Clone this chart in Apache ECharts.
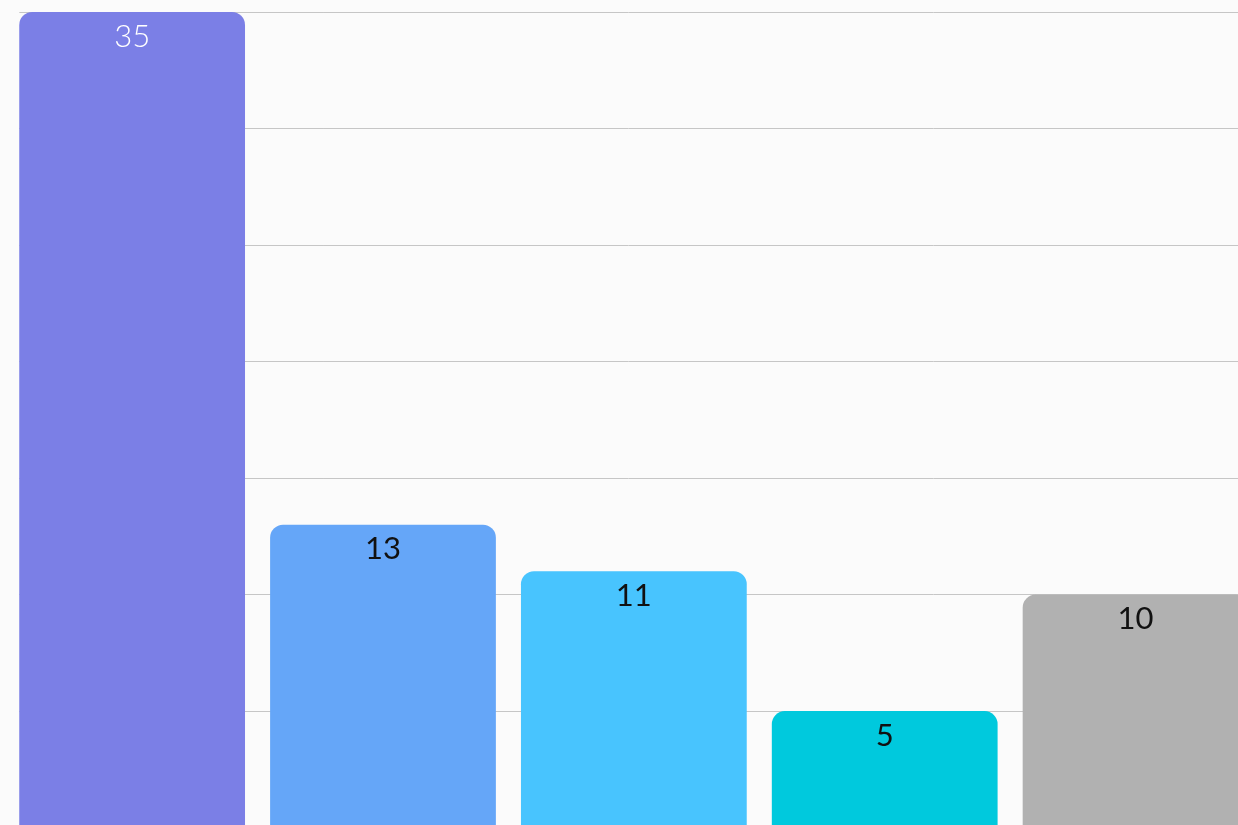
<!DOCTYPE html>
<html>
<head>
<meta charset="utf-8">
<script src="https://cdn.jsdelivr.net/npm/echarts@6/dist/echarts.min.js"></script>
<style>
html,body{margin:0;padding:0;background:#fbfbfb;}
#chart{width:1238px;height:825px;}
</style>
</head>
<body>
<div id="chart"></div>
<script>
const categories = ['A', 'B', 'C', 'D', 'E'];
const values = [35, 13, 11, 5, 10];
const barColors = ['#7b7fe6', '#65a6f8', '#48c4fe', '#00c9dd', '#b1b1b1'];
const labelColors = ['#ffffff', '#111111', '#111111', '#111111', '#111111'];
const yTicks = [0, 5, 10, 15, 20, 25, 30, 35];

const chart = echarts.init(document.getElementById('chart'));
const yMin = yTicks[0], yMax = yTicks[yTicks.length - 1], yStep = yTicks[1] - yTicks[0];

chart.setOption({
  backgroundColor: '#fbfbfb',
  animation: false,
  grid: [
    { left: 6.7, top: 12, width: 1254.3, height: 815.6, outerBoundsMode: 'none', containLabel: false },
    { left: 19.3, top: 12, width: 1218.7, height: 815.6, outerBoundsMode: 'none', containLabel: false }
  ],
  xAxis: [
    { type: 'category', gridIndex: 0, data: categories, show: false },
    { type: 'value', gridIndex: 1, show: false, min: 0, max: 1 }
  ],
  yAxis: [
    { type: 'value', gridIndex: 0, min: yMin, max: yMax, interval: yStep, show: false, splitLine: { show: false } },
    { type: 'value', gridIndex: 1, min: yMin, max: yMax, interval: yStep,
      axisLine: { show: false }, axisTick: { show: false }, axisLabel: { show: false },
      splitLine: { show: true, lineStyle: { color: '#c6c6c6', width: 1 } } }
  ],
  series: [{
    type: 'bar',
    xAxisIndex: 0,
    yAxisIndex: 0,
    barCategoryGap: '10%',
    z: 5,
    data: values.map((v, i) => ({
      value: v,
      itemStyle: { color: barColors[i], borderRadius: [13, 13, 0, 0] },
      label: { color: labelColors[i], fontWeight: i === 0 ? 300 : 400 }
    })),
    label: {
      show: true,
      position: 'insideTop',
      distance: 10,
      fontFamily: 'Lato',
      fontSize: 31,
      lineHeight: 29
    }
  }]
});
</script>
</body>
</html>
